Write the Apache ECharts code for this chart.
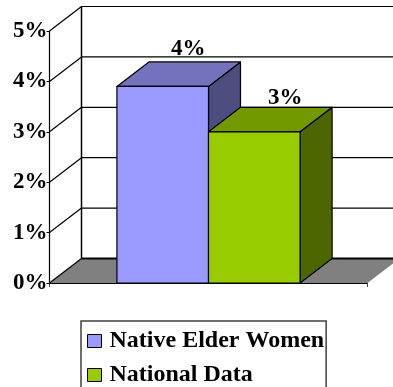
<!DOCTYPE html>
<html>
<head>
<meta charset="utf-8">
<style>html,body{margin:0;padding:0;background:#fff}#c{width:393px;height:387px}</style>
<script src="https://cdn.jsdelivr.net/npm/echarts@6/dist/echarts.min.js"></script>
</head>
<body>
<div id="c"></div>
<script>
// Survey results, in percent
const categories = [''];
const seriesNames = ['Native Elder Women', 'National Data'];
const nativeElderWomen = [3.9];
const nationalData = [3.0];
const axisTicks = [0, 1, 2, 3, 4, 5];

// Oblique projection of the chart box
const DEPTH_X = 32, DEPTH_Y = -24.5;
const BAR_RATIO = 0.288;
const FONT = '"Liberation Serif", "Times New Roman", serif';

const faces = [
  { front: '#9999FF', top: '#7373BD', side: '#4D4D80', labelDx: 25.5, labelDy: -1 },
  { front: '#99CC00', top: '#739900', side: '#4D6600', labelDx: 31, labelDy: 2 }
];

// Back wall gridlines, their returns to the front axis, and the floor
function renderWall(params, api) {
  const v = api.value(0);
  const p = api.coord([0, v]);
  const band = api.size([1, 0])[0];
  const left = p[0] - band / 2, right = p[0] + band / 2, y = p[1];
  const line = { stroke: '#000', lineWidth: v === 0 ? 2 : 1.2 };
  const children = [];
  if (v === 0) {
    children.push({
      type: 'polygon',
      shape: { points: [[left, y], [right, y], [right + DEPTH_X, y + DEPTH_Y], [left + DEPTH_X, y + DEPTH_Y]] },
      style: { fill: '#808080', stroke: null }
    });
    const topY = api.coord([0, axisTicks[axisTicks.length - 1]])[1];
    children.push({
      type: 'line',
      shape: { x1: left + DEPTH_X, y1: y + DEPTH_Y, x2: left + DEPTH_X, y2: topY + DEPTH_Y },
      style: { stroke: '#000', lineWidth: 1.5 }
    });
  }
  children.push({
    type: 'line',
    shape: { x1: left, y1: y, x2: left + DEPTH_X, y2: y + DEPTH_Y },
    style: { stroke: '#000', lineWidth: 1.2 }
  });
  children.push({
    type: 'line',
    shape: { x1: left + DEPTH_X, y1: y + DEPTH_Y, x2: right + DEPTH_X, y2: y + DEPTH_Y },
    style: line
  });
  return { type: 'group', children };
}

// One extruded bar: side, top and front faces plus the rounded value label
function renderBar(seriesIndex) {
  return function (params, api) {
    const value = api.value(1);
    const top = api.coord([api.value(0), value]);
    const base = api.coord([api.value(0), 0]);
    const w = api.size([1, 0])[0] * BAR_RATIO;
    const x0 = top[0] + (seriesIndex - 1) * w, x1 = x0 + w;
    const f = faces[seriesIndex];
    const edge = { stroke: '#000', lineWidth: 1.2, lineJoin: 'round' };
    return {
      type: 'group',
      children: [
        {
          type: 'polygon',
          shape: { points: [[x1, top[1]], [x1 + DEPTH_X, top[1] + DEPTH_Y], [x1 + DEPTH_X, base[1] + DEPTH_Y], [x1, base[1]]] },
          style: Object.assign({ fill: f.side }, edge)
        },
        {
          type: 'polygon',
          shape: { points: [[x0, top[1]], [x0 + DEPTH_X, top[1] + DEPTH_Y], [x1 + DEPTH_X, top[1] + DEPTH_Y], [x1, top[1]]] },
          style: Object.assign({ fill: f.top }, edge)
        },
        {
          type: 'rect',
          shape: { x: x0, y: top[1], width: w, height: base[1] - top[1] },
          style: Object.assign({ fill: f.front }, edge)
        },
        {
          type: 'text',
          x: (x0 + x1) / 2 + f.labelDx,
          y: top[1] + DEPTH_Y + f.labelDy,
          style: {
            text: value.toFixed(0) + '%',
            font: 'bold 23px ' + FONT,
            fill: '#000',
            align: 'center',
            verticalAlign: 'bottom'
          }
        }
      ]
    };
  };
}

const chart = echarts.init(document.getElementById('c'));
chart.setOption({
  animation: false,
  backgroundColor: '#fff',
  grid: { left: 49.5, right: 25.5, top: 31, bottom: 104 },
  legend: {
    orient: 'vertical',
    left: 81,
    top: 321,
    width: 243,
    height: 80,
    padding: [8, 2, 8, 6],
    itemWidth: 14,
    itemHeight: 13,
    itemGap: 10,
    borderColor: '#404040',
    borderWidth: 1.5,
    backgroundColor: '#fff',
    selectedMode: false,
    textStyle: { fontFamily: FONT, fontWeight: 'bold', fontSize: 24, color: '#000', padding: [0, 0, 0, 3] },
    data: seriesNames.map((name, i) => ({
      name,
      icon: 'rect',
      itemStyle: { color: faces[i].front, borderColor: '#000', borderWidth: 1 }
    }))
  },
  xAxis: {
    type: 'category',
    data: categories,
    axisLine: { lineStyle: { color: '#000', width: 1.2 } },
    axisTick: { show: true, length: 4, lineStyle: { color: '#404040' } },
    axisLabel: { show: false },
    splitLine: { show: false }
  },
  yAxis: {
    type: 'value',
    min: 0,
    max: 5,
    interval: 1,
    axisLine: { show: true, lineStyle: { color: '#000', width: 1.2 } },
    axisTick: { show: true, length: 3, lineStyle: { color: '#000' } },
    axisLabel: {
      margin: 2,
      padding: [3, 0, 0, 0],
      formatter: '{value}%',
      fontFamily: FONT,
      fontWeight: 'bold',
      fontSize: 23,
      color: '#000'
    },
    splitLine: { show: false }
  },
  series: [
    {
      name: 'wall',
      type: 'custom',
      silent: true,
      z: 1,
      renderItem: renderWall,
      encode: { y: 0 },
      data: axisTicks.map(t => [t])
    },
    {
      name: seriesNames[0],
      type: 'custom',
      z: 2,
      renderItem: renderBar(0),
      itemStyle: { color: faces[0].front },
      encode: { x: 0, y: 1 },
      data: nativeElderWomen.map((v, i) => [i, v])
    },
    {
      name: seriesNames[1],
      type: 'custom',
      z: 3,
      renderItem: renderBar(1),
      itemStyle: { color: faces[1].front },
      encode: { x: 0, y: 1 },
      data: nationalData.map((v, i) => [i, v])
    }
  ]
});
</script>
</body>
</html>
